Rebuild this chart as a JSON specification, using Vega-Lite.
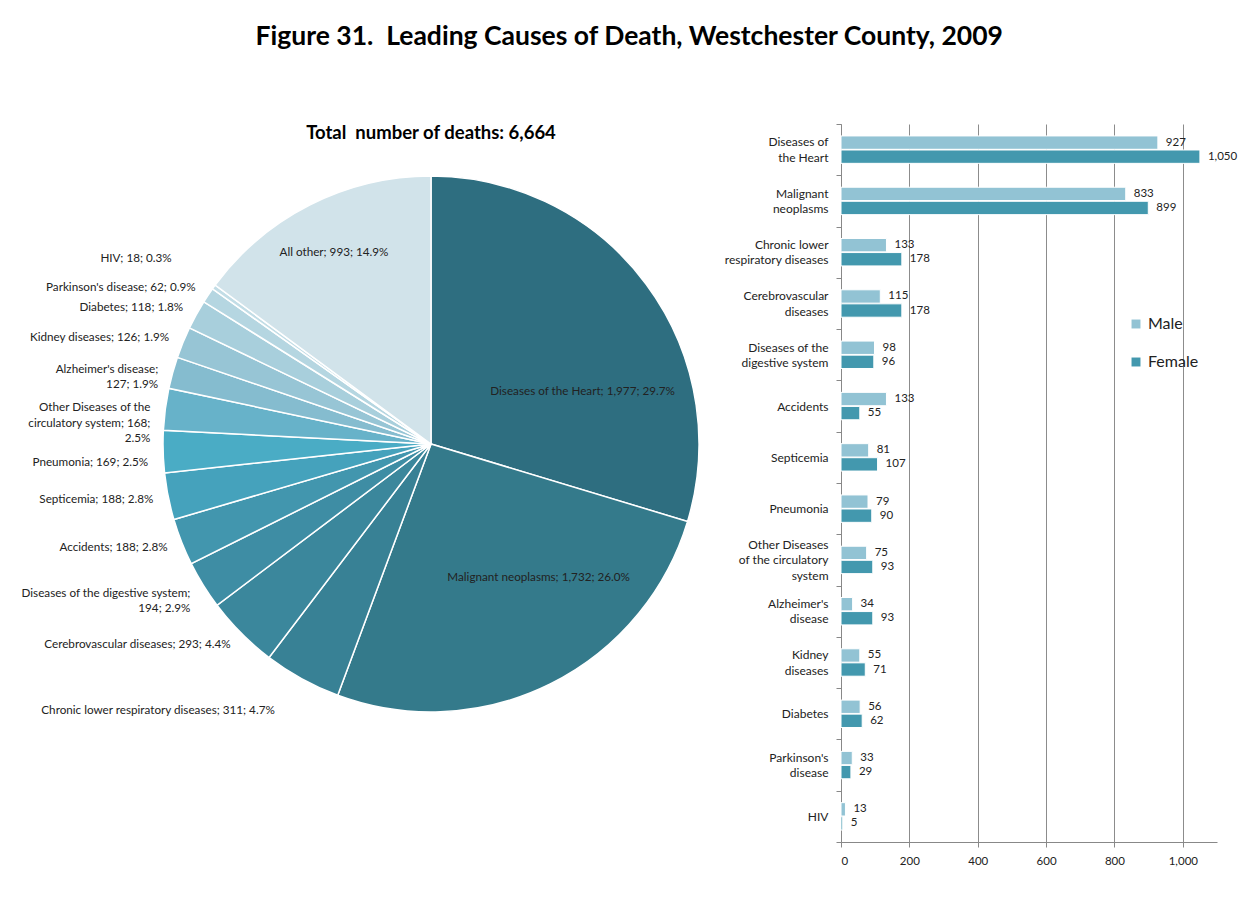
{
  "$schema": "https://vega.github.io/schema/vega-lite/v6.json",
  "background": "white",
  "padding": {"left": 21, "top": 23, "right": 5, "bottom": 5},
  "config": {"font": "Lato", "view": {"stroke": null}, "text": {"font": "Lato"}},
  "title": {"text": "Figure 31.\u00a0 Leading Causes of Death, Westchester County, 2009", "fontSize": 26.5, "font": "Lato", "fontWeight": "bold", "color": "#000", "anchor": "middle", "offset": 68},
  "resolve": {"scale": {"color": "independent"}, "legend": {"color": "independent"}},
  "datasets": {
    "pie": [
      {"ord": 1, "cause": "Diseases of the Heart", "deaths": 1977, "label": "Diseases of the Heart; 1,977; 29.7%"},
      {"ord": 2, "cause": "Malignant neoplasms", "deaths": 1732, "label": "Malignant  neoplasms; 1,732; 26.0%"},
      {"ord": 3, "cause": "Chronic lower respiratory diseases", "deaths": 311, "label": "Chronic lower respiratory diseases; 311; 4.7%"},
      {"ord": 4, "cause": "Cerebrovascular diseases", "deaths": 293, "label": "Cerebrovascular diseases; 293; 4.4%"},
      {"ord": 5, "cause": "Diseases of the digestive system", "deaths": 194, "label": "Diseases of the digestive system;|194; 2.9%"},
      {"ord": 6, "cause": "Accidents", "deaths": 188, "label": "Accidents; 188; 2.8%"},
      {"ord": 7, "cause": "Septicemia", "deaths": 188, "label": "Septicemia; 188; 2.8%"},
      {"ord": 8, "cause": "Pneumonia", "deaths": 169, "label": "Pneumonia; 169; 2.5%"},
      {"ord": 9, "cause": "Other Diseases of the circulatory system", "deaths": 168, "label": "Other Diseases of the|circulatory system; 168;|2.5%"},
      {"ord": 10, "cause": "Alzheimer's disease", "deaths": 127, "label": "Alzheimer's disease;|127; 1.9%"},
      {"ord": 11, "cause": "Kidney diseases", "deaths": 126, "label": "Kidney diseases; 126; 1.9%"},
      {"ord": 12, "cause": "Diabetes", "deaths": 118, "label": "Diabetes; 118; 1.8%"},
      {"ord": 13, "cause": "Parkinson's disease", "deaths": 62, "label": "Parkinson's disease; 62; 0.9%"},
      {"ord": 14, "cause": "HIV", "deaths": 18, "label": "HIV; 18; 0.3%"},
      {"ord": 15, "cause": "All other", "deaths": 993, "label": "All other; 993; 14.9%"}
    ],
    "bars": [
      {"cause": "Diseases of|the Heart", "sex": "Male", "n": 927},
      {"cause": "Diseases of|the Heart", "sex": "Female", "n": 1050},
      {"cause": "Malignant|neoplasms", "sex": "Male", "n": 833},
      {"cause": "Malignant|neoplasms", "sex": "Female", "n": 899},
      {"cause": "Chronic lower|respiratory diseases", "sex": "Male", "n": 133},
      {"cause": "Chronic lower|respiratory diseases", "sex": "Female", "n": 178},
      {"cause": "Cerebrovascular|diseases", "sex": "Male", "n": 115},
      {"cause": "Cerebrovascular|diseases", "sex": "Female", "n": 178},
      {"cause": "Diseases of the|digestive system", "sex": "Male", "n": 98},
      {"cause": "Diseases of the|digestive system", "sex": "Female", "n": 96},
      {"cause": "Accidents", "sex": "Male", "n": 133},
      {"cause": "Accidents", "sex": "Female", "n": 55},
      {"cause": "Septicemia", "sex": "Male", "n": 81},
      {"cause": "Septicemia", "sex": "Female", "n": 107},
      {"cause": "Pneumonia", "sex": "Male", "n": 79},
      {"cause": "Pneumonia", "sex": "Female", "n": 90},
      {"cause": "Other Diseases|of the circulatory|system", "sex": "Male", "n": 75},
      {"cause": "Other Diseases|of the circulatory|system", "sex": "Female", "n": 93},
      {"cause": "Alzheimer's|disease", "sex": "Male", "n": 34},
      {"cause": "Alzheimer's|disease", "sex": "Female", "n": 93},
      {"cause": "Kidney|diseases", "sex": "Male", "n": 55},
      {"cause": "Kidney|diseases", "sex": "Female", "n": 71},
      {"cause": "Diabetes", "sex": "Male", "n": 56},
      {"cause": "Diabetes", "sex": "Female", "n": 62},
      {"cause": "Parkinson's|disease", "sex": "Male", "n": 33},
      {"cause": "Parkinson's|disease", "sex": "Female", "n": 29},
      {"cause": "HIV", "sex": "Male", "n": 13},
      {"cause": "HIV", "sex": "Female", "n": 5}
    ]
  },
  "spacing": 4,
  "hconcat": [
    {
      "width": 578,
      "height": 640,
      "title": {"text": "Total\u00a0 number of deaths: 6,664", "fontSize": 18.5, "fontWeight": "bold", "font": "Lato", "color": "#000", "offset": -18},
      "data": {"name": "pie"},
      "encoding": {
        "theta": {"field": "deaths", "type": "quantitative", "stack": true},
        "order": {"field": "ord", "type": "quantitative"}
      },
      "layer": [
        {
          "mark": {"type": "arc", "outerRadius": 268, "stroke": "white", "strokeWidth": 1.5},
          "encoding": {
            "color": {
              "field": "cause", "type": "nominal", "legend": null,
              "scale": {
                "domain": ["Diseases of the Heart", "Malignant neoplasms", "Chronic lower respiratory diseases", "Cerebrovascular diseases", "Diseases of the digestive system", "Accidents", "Septicemia", "Pneumonia", "Other Diseases of the circulatory system", "Alzheimer's disease", "Kidney diseases", "Diabetes", "Parkinson's disease", "HIV", "All other"],
                "range": ["#2E6E80", "#347A8B", "#388195", "#3B879C", "#3E8DA4", "#4296AE", "#45A2BC", "#4AACC5", "#67B2C9", "#85BCCF", "#97C5D5", "#A8CFDC", "#B5D6E1", "#C2DDE6", "#D1E3EA"]
              }
            }
          }
        },
        {
          "mark": {"type": "text", "radius": 283, "align": "right", "baseline": "middle", "fontSize": 11.7, "color": "#222", "lineBreak": "|", "lineHeight": 15.5},
          "encoding": {"text": {"condition": {"test": "indexof(['Diseases of the Heart','Malignant neoplasms','All other','HIV','Chronic lower respiratory diseases','Pneumonia'], datum.cause) < 0", "field": "label"}, "value": ""}}
        },
        {
          "mark": {"type": "text", "radius": 283, "align": "right", "baseline": "middle", "fontSize": 11.7, "color": "#222", "dy": 10},
          "encoding": {"text": {"condition": {"test": "datum.cause === 'Pneumonia'", "field": "label"}, "value": ""}}
        },
        {
          "mark": {"type": "text", "radius": 283, "align": "right", "baseline": "middle", "fontSize": 11.7, "color": "#222", "dx": -30, "dy": -20},
          "encoding": {"text": {"condition": {"test": "datum.cause === 'HIV'", "field": "label"}, "value": ""}}
        },
        {
          "mark": {"type": "text", "radius": 283, "align": "right", "baseline": "middle", "fontSize": 11.7, "color": "#222", "dx": -20, "dy": 18},
          "encoding": {"text": {"condition": {"test": "datum.cause === 'Chronic lower respiratory diseases'", "field": "label"}, "value": ""}}
        },
        {
          "mark": {"type": "text", "radius": 215, "align": "center", "baseline": "middle", "fontSize": 11.7, "color": "#222"},
          "encoding": {"text": {"condition": {"test": "datum.cause === 'All other'", "field": "label"}, "value": ""}}
        },
        {
          "mark": {"type": "text", "radius": 215, "align": "center", "baseline": "middle", "fontSize": 11.7, "color": "#222", "dx": -21, "dy": 75},
          "encoding": {"text": {"condition": {"test": "datum.cause === 'Diseases of the Heart'", "field": "label"}, "value": ""}}
        },
        {
          "mark": {"type": "text", "radius": 215, "align": "center", "baseline": "middle", "fontSize": 11.7, "color": "#222", "dx": 12, "dy": -60},
          "encoding": {"text": {"condition": {"test": "datum.cause === 'Malignant neoplasms'", "field": "label"}, "value": ""}}
        }
      ]
    },
    {
      "width": 376,
      "height": 718,
      "data": {"name": "bars"},
      "encoding": {
        "y": {
          "field": "cause", "type": "nominal", "sort": null,
          "scale": {"paddingInner": 0, "paddingOuter": 0},
          "axis": {
            "title": null, "labelExpr": "split(datum.label, '|')", "labelFontSize": 12, "labelColor": "#222", "labelLineHeight": 15.5, "labelPadding": 8, "tickBand": "extent", "tickSize": 5, "tickColor": "#888", "domainColor": "#888", "labelLimit": 200,
            "labelOffset": {"condition": [{"test": "length(split(datum.value, '|')) == 3", "value": -15.5}, {"test": "length(split(datum.value, '|')) == 2", "value": -7.75}], "value": 0}
          }
        },
        "yOffset": {"field": "sex", "type": "nominal", "sort": ["Male", "Female"], "scale": {"paddingInner": 0.05, "paddingOuter": 0.85}},
        "x": {
          "field": "n", "type": "quantitative",
          "scale": {"domain": [0, 1100], "nice": false},
          "axis": {"title": null, "values": [0, 200, 400, 600, 800, 1000], "labelExpr": "format(datum.value, ',')", "grid": true, "gridColor": "#8c8c8c", "domainColor": "#888", "tickColor": "#888", "tickSize": 5, "labelFontSize": 11.5, "labelColor": "#222", "labelPadding": 8}
        }
      },
      "layer": [
        {
          "mark": {"type": "bar", "stroke": "white", "strokeWidth": 1},
          "encoding": {
            "color": {
              "field": "sex", "type": "nominal",
              "scale": {"domain": ["Male", "Female"], "range": ["#92C3D4", "#4398AE"]},
              "legend": {"title": null, "orient": "none", "legendX": 287, "legendY": 192, "symbolType": "square", "symbolSize": 80, "labelFontSize": 16, "labelColor": "#222", "rowPadding": 22, "symbolStrokeWidth": 0}
            }
          }
        },
        {
          "mark": {"type": "text", "align": "left", "baseline": "middle", "dx": 8, "fontSize": 11.5, "color": "#222"},
          "encoding": {"text": {"field": "n", "type": "quantitative", "format": ","}}
        }
      ]
    }
  ]
}
